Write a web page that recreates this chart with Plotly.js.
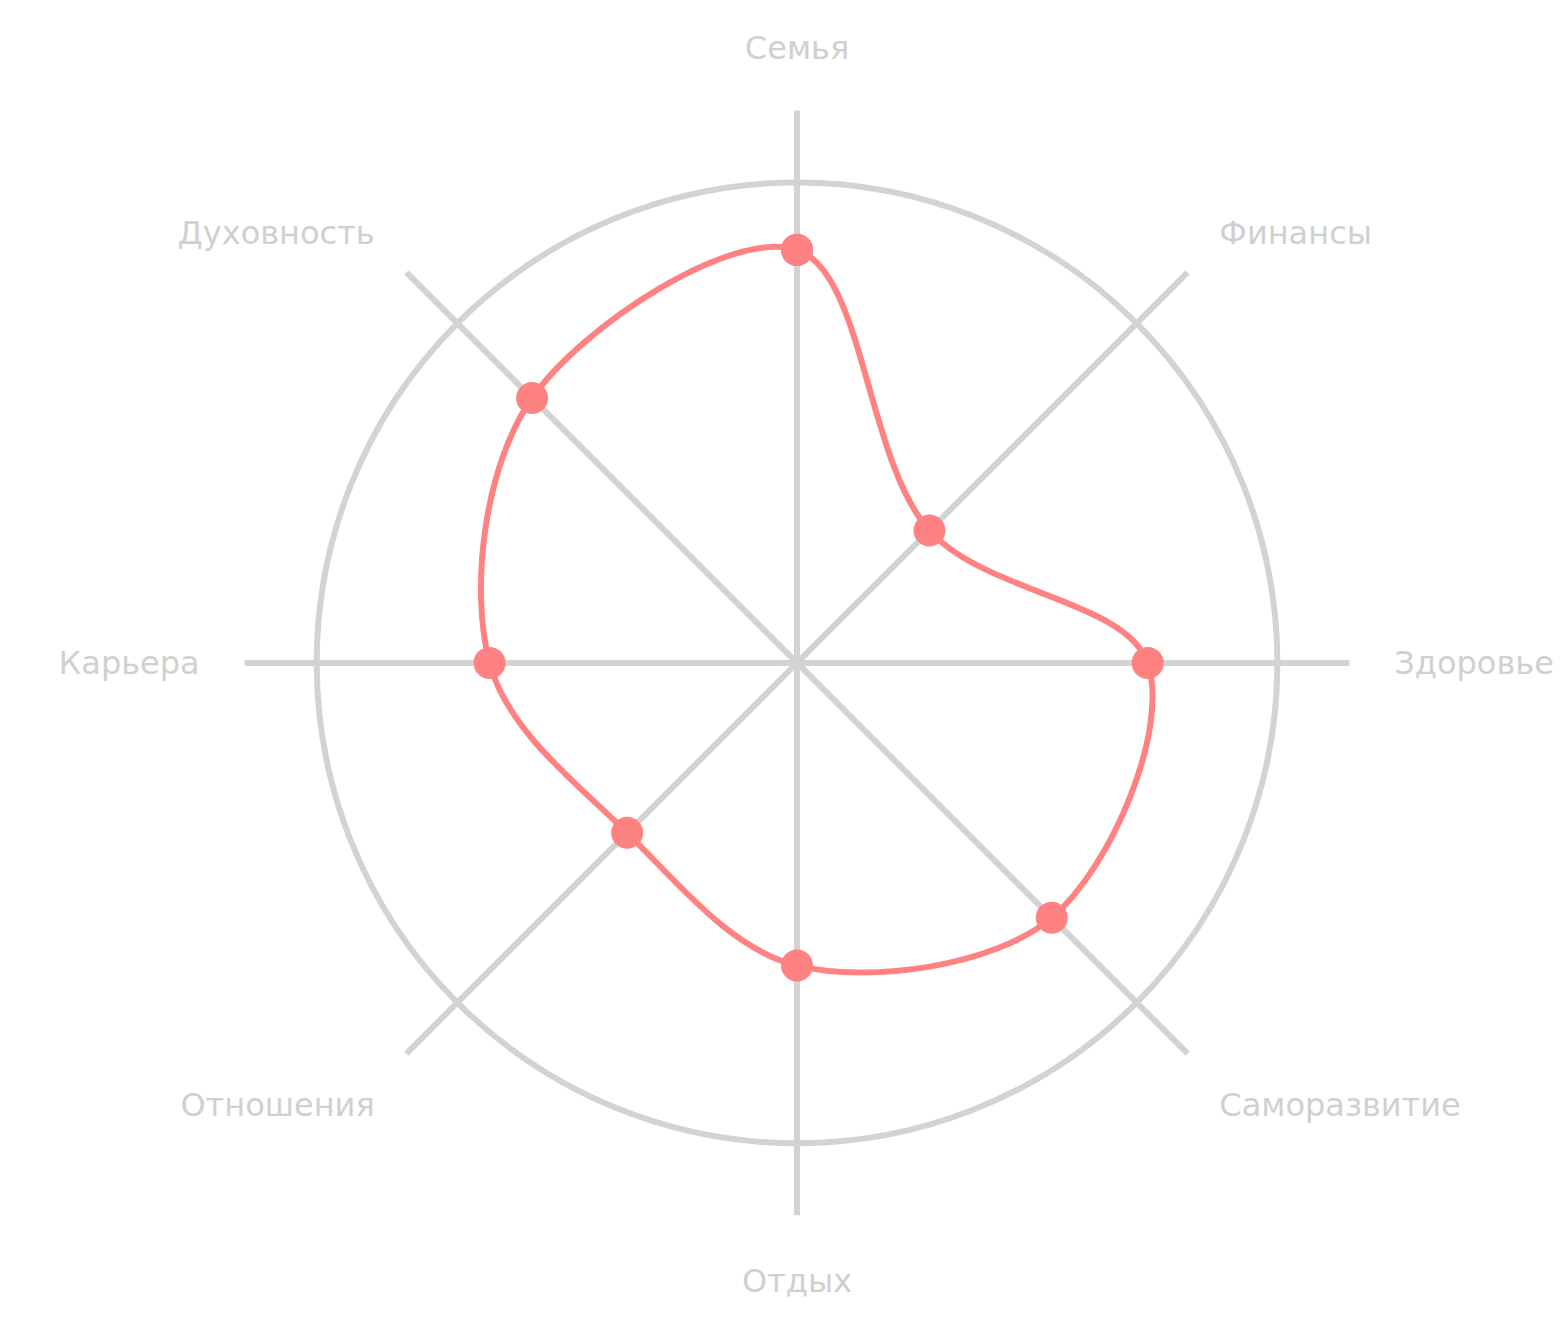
<!DOCTYPE html>
<html>
<head>
<meta charset="utf-8">
<script src="https://cdn.plot.ly/plotly-3.0.1.min.js"></script>
<style>html,body{margin:0;padding:0;background:#fff;}#chart{width:1562px;height:1330px;}</style>
</head>
<body>
<div id="chart"></div>
<script>
const categories = ["Семья", "Финансы", "Здоровье", "Саморазвитие", "Отдых", "Отношения", "Карьера", "Духовность"];
const values = [8.6, 3.9, 7.3, 7.5, 6.3, 5.0, 6.4, 7.8];
const gridValue = [10];
const axisMax = 11.5;

const theta = categories.concat([categories[0]]);
const r = values.concat([values[0]]);

const trace = {
  type: "scatterpolar",
  mode: "lines+markers",
  theta: theta,
  r: r,
  line: {color: "#ff8282", width: 6, shape: "spline", smoothing: 1},
  marker: {color: "#ff8282", size: 32},
  hoverinfo: "skip",
  showlegend: false
};

const layout = {
  width: 1562, height: 1330,
  paper_bgcolor: "#ffffff",
  margin: {l: 0, r: 0, t: 0, b: 0},
  showlegend: false,
  polar: {
    domain: {x: [0.1566, 0.8639], y: [0.0861, 0.9170]},
    bgcolor: "rgba(0,0,0,0)",
    gridshape: "circular",
    radialaxis: {
      range: [0, axisMax],
      tickvals: gridValue,
      showticklabels: false,
      ticks: "",
      showline: false,
      showgrid: true,
      gridcolor: "#d3d3d3",
      gridwidth: 6
    },
    angularaxis: {
      rotation: 90,
      direction: "clockwise",
      showline: false,
      showgrid: true,
      gridcolor: "#d3d3d3",
      gridwidth: 6,
      ticks: "outside",
      ticklen: 38,
      tickcolor: "rgba(0,0,0,0)",
      tickfont: {family: "'DejaVu Sans', sans-serif", size: 32, color: "#d0d0d0"}
    }
  }
};

Plotly.newPlot("chart", [trace], layout, {displayModeBar: false, staticPlot: true});
</script>
</body>
</html>
